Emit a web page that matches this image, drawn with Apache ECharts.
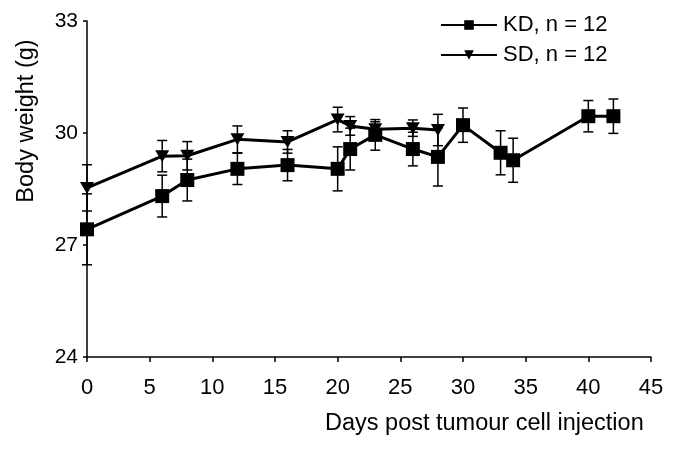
<!DOCTYPE html>
<html><head><meta charset="utf-8">
<script src="https://cdn.jsdelivr.net/npm/echarts@6/dist/echarts.min.js"></script>
<style>html,body{margin:0;padding:0;background:#fff}#c{width:685px;height:450px}</style>
</head><body><div id="c"></div>
<script>
const kdDays = [0, 6, 8, 12, 16, 20, 21, 23, 26, 28, 30, 33, 34, 40, 42];
const kdMean = [27.42, 28.31, 28.74, 29.04, 29.14, 29.04, 29.57, 29.95, 29.57, 29.36, 30.21, 29.47, 29.27, 30.45, 30.45];
const kdErr  = [0.95, 0.56, 0.56, 0.42, 0.42, 0.59, 0.56, 0.41, 0.45, 0.78, 0.46, 0.59, 0.59, 0.42, 0.46];
const sdDays = [0, 6, 8, 12, 16, 20, 21, 23, 26, 28];
const sdMean = [28.53, 29.38, 29.39, 29.83, 29.76, 30.36, 30.19, 30.1, 30.13, 30.08];
const sdErr  = [0.62, 0.42, 0.38, 0.36, 0.30, 0.33, 0.25, 0.20, 0.22, 0.42];
const xTicks = [0, 5, 10, 15, 20, 25, 30, 35, 40, 45];
const yTicks = [24, 27, 30, 33];
const FONT = '"Liberation Sans", Arial, Helvetica, sans-serif';

function errData(days, mean, err) {
  return days.map((d, i) => [d, mean[i] - err[i], mean[i] + err[i]]);
}
function errRender(params, api) {
  const x = api.value(0);
  const lo = api.coord([x, api.value(1)]);
  const hi = api.coord([x, api.value(2)]);
  const w = 5;
  const st = { stroke: '#000', lineWidth: 1.5 };
  return { type: 'group', children: [
    { type: 'line', shape: { x1: lo[0], y1: lo[1], x2: hi[0], y2: hi[1] }, style: st },
    { type: 'line', shape: { x1: lo[0] - w, y1: lo[1], x2: lo[0] + w, y2: lo[1] }, style: st },
    { type: 'line', shape: { x1: hi[0] - w, y1: hi[1], x2: hi[0] + w, y2: hi[1] }, style: st }
  ]};
}

const chart = echarts.init(document.getElementById('c'), null, { renderer: 'canvas' });
chart.setOption({
  animation: false,
  backgroundColor: '#fff',
  textStyle: { fontFamily: FONT },
  grid: { left: 87, right: 34, top: 21, bottom: 93, containLabel: false },
  legend: {
    orient: 'vertical', left: 435, top: 9, itemWidth: 56, itemHeight: 12, itemGap: 8,
    lineStyle: { width: 2 },
    textStyle: { fontFamily: FONT, fontSize: 22, color: '#000', padding: [0, 0, 0, 1] },
    data: ['KD, n = 12', 'SD, n = 12']
  },
  xAxis: {
    type: 'value', min: 0, max: 45, interval: 5,
    axisLine: { lineStyle: { color: '#000', width: 1.5 } },
    axisTick: { show: true, length: 5, lineStyle: { color: '#000', width: 1.5 } },
    axisLabel: { color: '#000', fontSize: 22, fontFamily: FONT, margin: 20,
      formatter: v => xTicks.includes(v) ? String(v) : '' },
    splitLine: { show: false }
  },
  yAxis: {
    type: 'value', min: 24, max: 33, interval: 3,
    axisLine: { show: true, lineStyle: { color: '#000', width: 1.5 } },
    axisTick: { show: true, length: 4, lineStyle: { color: '#000', width: 1.5 } },
    axisLabel: { color: '#000', fontSize: 21, fontFamily: FONT, margin: 9,
      formatter: v => yTicks.includes(v) ? String(v) : '' },
    splitLine: { show: false }
  },
  graphic: [
    { type: 'text', left: 325, top: 412, style: { text: 'Days post tumour cell injection', fontSize: 23.5, fontFamily: FONT, fill: '#000' } },
    { type: 'text', x: 27, y: 121, rotation: Math.PI / 2, style: { text: 'Body weight (g)', fontSize: 23.5, fontFamily: FONT, fill: '#000', align: 'center', verticalAlign: 'middle' } }
  ],
  series: [
    { type: 'custom', name: 'kdErr', renderItem: errRender, data: errData(kdDays, kdMean, kdErr), z: 1, silent: true },
    { type: 'custom', name: 'sdErr', renderItem: errRender, data: errData(sdDays, sdMean, sdErr), z: 1, silent: true },
    { type: 'line', name: 'SD, n = 12', data: sdDays.map((d, i) => [d, sdMean[i]]),
      symbol: 'triangle', symbolRotate: 180, symbolSize: [14, 12],
      lineStyle: { color: '#000', width: 3 }, itemStyle: { color: '#000' }, z: 3 },
    { type: 'line', name: 'KD, n = 12', data: kdDays.map((d, i) => [d, kdMean[i]]),
      symbol: 'rect', symbolSize: 14,
      lineStyle: { color: '#000', width: 3 }, itemStyle: { color: '#000' }, z: 4 }
  ]
});
</script></body></html>
